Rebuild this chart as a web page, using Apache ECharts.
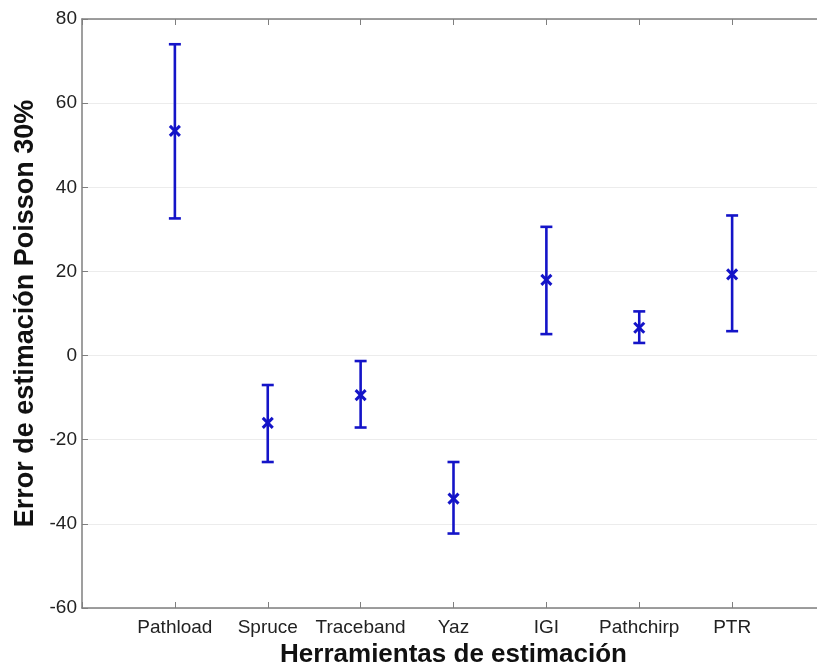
<!DOCTYPE html>
<html>
<head>
<meta charset="utf-8">
<script src="https://cdn.jsdelivr.net/npm/echarts@6/dist/echarts.min.js"></script>
<style>
html,body{margin:0;padding:0;background:#fff;overflow:hidden;}
#chart{width:817px;height:667px;}
</style>
</head>
<body>
<div id="chart"></div>
<script>
const categories = ['Pathload','Spruce','Traceband','Yaz','IGI','Pathchirp','PTR'];
const meanValues = [53.4, -16.0, -9.4, -34.0, 18.0, 6.6, 19.3];
const upperValues = [74.0, -7.0, -1.3, -25.3, 30.6, 10.5, 33.3];
const lowerValues = [32.6, -25.3, -17.1, -42.3, 5.1, 3.0, 5.8];
const yTicks = [-60, -40, -20, 0, 20, 40, 60, 80];

const seriesData = categories.map((c, i) => [i + 1, meanValues[i], lowerValues[i], upperValues[i]]);

const blue = '#1414c8';
const axisGray = '#7f7f7f';
const font = 'Liberation Sans, Arial, sans-serif';

const chart = echarts.init(document.getElementById('chart'), null, {renderer: 'canvas'});
chart.setOption({
  animation: false,
  backgroundColor: '#ffffff',
  grid: {left: 82, top: 19, width: 743, height: 589, containLabel: false, outerBoundsMode: 'none'},
  xAxis: [{
    type: 'value', min: 0, max: 8, interval: 1, position: 'bottom',
    name: 'Herramientas de estimación', nameLocation: 'middle', nameGap: 27,
    nameTextStyle: {fontFamily: font, fontSize: 26, fontWeight: 'bold', color: '#111'},
    axisLine: {show: true, onZero: false, lineStyle: {color: axisGray, width: 1.5}},
    axisTick: {show: true, inside: true, length: 6, lineStyle: {color: axisGray}},
    splitLine: {show: false},
    axisLabel: {
      margin: 10, fontFamily: font, fontSize: 19, color: '#222',
      formatter: v => (v >= 1 && v <= categories.length) ? categories[v - 1] : ''
    }
  }, {
    type: 'value', min: 0, max: 8, interval: 1, position: 'top',
    axisLine: {show: true, onZero: false, lineStyle: {color: axisGray, width: 1.5}},
    axisTick: {show: true, inside: true, length: 6, lineStyle: {color: axisGray}},
    splitLine: {show: false},
    axisLabel: {show: false}
  }],
  yAxis: [{
    type: 'value', min: -60, max: 80, interval: 20, position: 'left',
    name: 'Error de estimación Poisson 30%', nameLocation: 'middle', nameGap: 43,
    nameTextStyle: {fontFamily: font, fontSize: 27, fontWeight: 'bold', color: '#111'},
    axisLine: {show: true, onZero: false, lineStyle: {color: axisGray, width: 1.5}},
    axisTick: {show: true, inside: true, length: 6, lineStyle: {color: axisGray}},
    splitLine: {show: true, lineStyle: {color: '#ececec', width: 1}},
    axisLabel: {
      margin: 5, fontFamily: font, fontSize: 19, color: '#222',
      formatter: v => yTicks.includes(v) ? String(v) : ''
    }
  }, {
    type: 'value', min: -60, max: 80, interval: 20, position: 'right',
    axisLine: {show: true, onZero: false, lineStyle: {color: axisGray, width: 1.5}},
    axisTick: {show: false}, axisLabel: {show: false}, splitLine: {show: false}
  }],
  series: [{
    type: 'custom',
    xAxisIndex: 0, yAxisIndex: 0,
    data: seriesData,
    renderItem: function (params, api) {
      const x = api.value(0);
      const pm = api.coord([x, api.value(1)]);
      const pl = api.coord([x, api.value(2)]);
      const pu = api.coord([x, api.value(3)]);
      const cap = 6;
      const m = 5;
      const style = {stroke: blue, lineWidth: 2.6, fill: null};
      return {
        type: 'group',
        children: [
          {type: 'line', shape: {x1: pl[0], y1: pl[1], x2: pu[0], y2: pu[1]}, style: style},
          {type: 'line', shape: {x1: pu[0] - cap, y1: pu[1], x2: pu[0] + cap, y2: pu[1]}, style: style},
          {type: 'line', shape: {x1: pl[0] - cap, y1: pl[1], x2: pl[0] + cap, y2: pl[1]}, style: style},
          {type: 'line', shape: {x1: pm[0] - m, y1: pm[1] - m, x2: pm[0] + m, y2: pm[1] + m}, style: {stroke: blue, lineWidth: 3}},
          {type: 'line', shape: {x1: pm[0] - m, y1: pm[1] + m, x2: pm[0] + m, y2: pm[1] - m}, style: {stroke: blue, lineWidth: 3}}
        ]
      };
    }
  }]
});
</script>
</body>
</html>
